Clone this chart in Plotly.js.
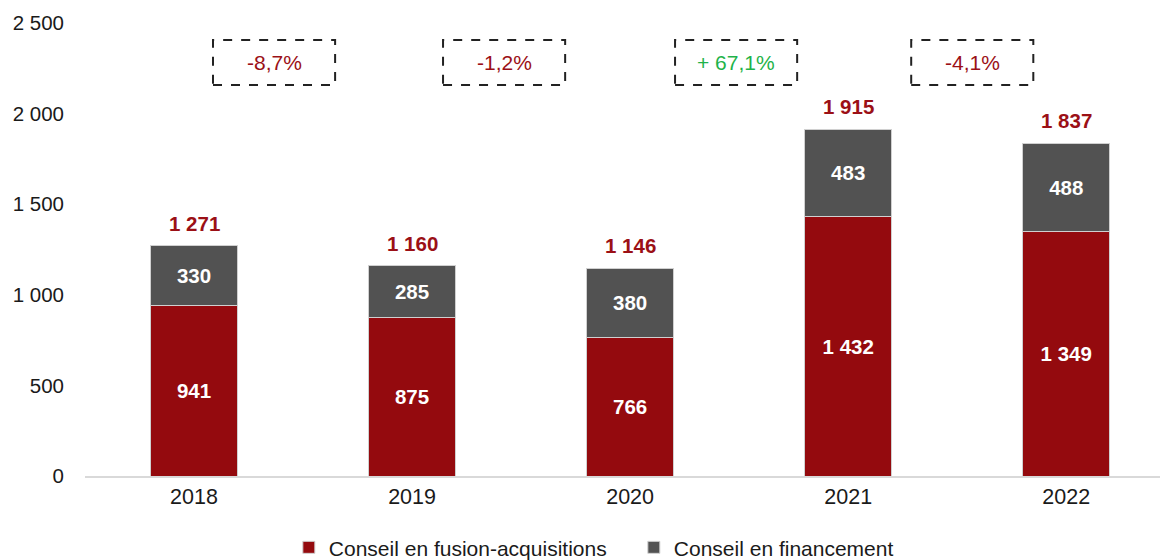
<!DOCTYPE html>
<html>
<head>
<meta charset="utf-8">
<script src="https://cdn.plot.ly/plotly-3.0.1.min.js"></script>
<style>
  html, body { margin: 0; padding: 0; background: #fff; }
  #chart { width: 1160px; height: 560px; }
</style>
</head>
<body>
<div id="chart"></div>
<script>
// years and revenue split (M€)
var years = ["2018", "2019", "2020", "2021", "2022"];
var fusionValues = [941, 875, 766, 1432, 1349];
var financeValues = [330, 285, 380, 483, 488];
var totals = [1271, 1160, 1146, 1915, 1837];

// year-on-year changes shown in the dashed boxes
var deltaLabels = ["-8,7%", "-1,2%", "+ 67,1%", "-4,1%"];
var deltaColors = ["#9b1016", "#9b1016", "#1fb34a", "#9b1016"];
var deltaCenters = [0.367, 1.422, 2.486, 3.569]; // x position of each box

var red = "#940a0e";
var grey = "#525252";

// french style number: 1 271
function fmt(n) {
    var s = String(n);
    if (s.length > 3) s = s.slice(0, s.length - 3) + " " + s.slice(s.length - 3);
    return s;
}

var fusionTrace = {
    x: years,
    y: fusionValues,
    name: "Conseil en fusion-acquisitions",
    type: "bar",
    marker: { color: red, line: { color: "#d0d0d0", width: 1 } },
    text: fusionValues.map(fmt),
    textposition: "inside",
    insidetextanchor: "middle",
    textfont: { color: "#ffffff", size: 20.5, family: "Liberation Sans, Arial", weight: "bold" },
    hoverinfo: "skip"
};

var financeTrace = {
    x: years,
    y: financeValues,
    name: "Conseil en financement",
    type: "bar",
    marker: { color: grey, line: { color: "#d0d0d0", width: 1 } },
    text: financeValues.map(fmt),
    textposition: "inside",
    insidetextanchor: "middle",
    textfont: { color: "#ffffff", size: 20.5, family: "Liberation Sans, Arial", weight: "bold" },
    hoverinfo: "skip"
};

var annotations = [];
var shapes = [];

// totals above each stack
for (var i = 0; i < years.length; i++) {
    annotations.push({
        x: i,
        y: totals[i],
        xref: "x",
        yref: "y",
        text: fmt(totals[i]),
        showarrow: false,
        yanchor: "bottom",
        yshift: 9,
        font: { color: "#9b1016", size: 20.5, family: "Liberation Sans, Arial", weight: "bold" }
    });
}

// dashed boxes with growth rates
for (var j = 0; j < deltaLabels.length; j++) {
    shapes.push({
        type: "rect",
        xref: "x", yref: "y",
        x0: deltaCenters[j] - 0.28, x1: deltaCenters[j] + 0.28,
        y0: 2158, y1: 2406,
        line: { color: "#222222", width: 2, dash: "dash" }
    });
    annotations.push({
        x: deltaCenters[j],
        y: 2282,
        xref: "x", yref: "y",
        text: deltaLabels[j],
        showarrow: false,
        font: { color: deltaColors[j], size: 21, family: "Liberation Sans, Arial" }
    });
}

var layout = {
    width: 1160,
    height: 560,
    barmode: "stack",
    bargap: 0.6,
    paper_bgcolor: "#ffffff",
    plot_bgcolor: "#ffffff",
    font: { family: "Liberation Sans, Arial", size: 21, color: "#1a1a1a" },
    margin: { l: 85, r: 0, t: 23, b: 84 },
    xaxis: {
        type: "category",
        range: [-0.5, 4.43],
        showline: true,
        linecolor: "#d9d9d9",
        linewidth: 2,
        ticks: "",
        showgrid: false,
        tickfont: { size: 21.5 }
    },
    yaxis: {
        range: [0, 2500],
        dtick: 500,
        tickformat: ",d",
        showgrid: false,
        zeroline: false,
        showline: false,
        ticks: "",
        ticklabelstandoff: 20,
        tickfont: { size: 20.5 }
    },
    separators: ", ",
    showlegend: true,
    legend: {
        orientation: "h",
        traceorder: "normal",
        xref: "container",
        yref: "container",
        x: 0.249,
        xanchor: "left",
        y: 0.022,
        yanchor: "middle",
        font: { size: 21 },
        itemwidth: 30,
        entrywidth: 300,
        entrywidthmode: "pixels"
    },
    annotations: annotations,
    shapes: shapes
};

Plotly.newPlot("chart", [fusionTrace, financeTrace], layout, { displayModeBar: false });
</script>
</body>
</html>
